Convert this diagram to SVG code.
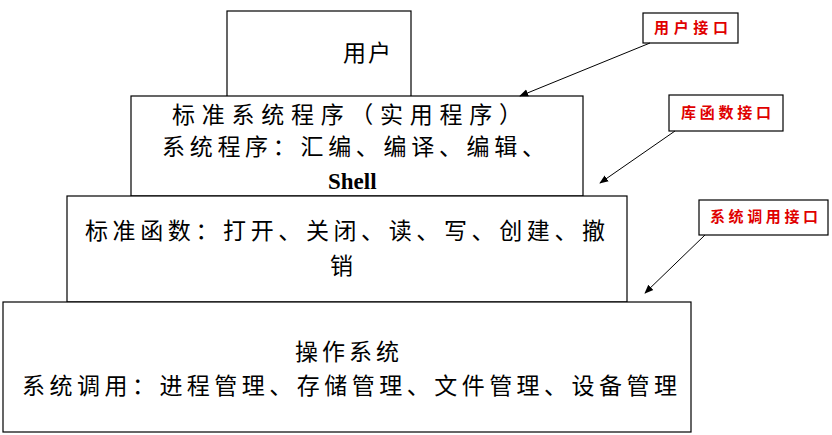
<svg xmlns="http://www.w3.org/2000/svg" width="832" height="435" viewBox="0 0 832 435">
<defs>
<style>
.b{fill:#fff;stroke:#000;stroke-width:1.2}
.t{font-family:"Liberation Serif","Noto Sans CJK SC",serif;font-size:23px;fill:#000}
.r{font-family:"Liberation Serif","Noto Sans CJK SC",serif;font-size:15px;font-weight:bold;fill:#e00000}
.c{stroke:#000;stroke-width:1;fill:none;marker-end:url(#a)}
</style>
<marker id="a" viewBox="0 0 10 10" refX="9" refY="5" markerWidth="9" markerHeight="9" orient="auto"><path d="M0,1 L10,5 L0,9 Z" fill="#000"/></marker>
</defs>
<rect width="832" height="435" fill="#fff"/>
<g id="user"><rect class="b" x="227" y="11" width="184" height="86"/><text class="t" x="343" y="61" textLength="48" lengthAdjust="spacing">用户</text></g>
<g id="stdsys"><rect class="b" x="131" y="96" width="452" height="100"/>
<text class="t" x="172" y="123" textLength="350" lengthAdjust="spacing">标准系统程序（实用程序）</text>
<text class="t" x="162" y="155" textLength="383" lengthAdjust="spacing">系统程序：汇编、编译、编辑、</text>
<text class="t" x="328" y="189" font-weight="bold" font-size="22">Shell</text></g>
<g id="stdfunc"><rect class="b" x="67" y="196" width="560" height="106"/>
<text class="t" x="85" y="239" textLength="520" lengthAdjust="spacing">标准函数：打开、关闭、读、写、创建、撤</text>
<text class="t" x="330" y="274">销</text></g>
<g id="os"><rect class="b" x="3" y="302" width="688" height="130"/>
<text class="t" x="295" y="360" textLength="104" lengthAdjust="spacing">操作系统</text>
<text class="t" x="22" y="394" textLength="655" lengthAdjust="spacing">系统调用：进程管理、存储管理、文件管理、设备管理</text></g>
<g id="l1"><rect class="b" x="643" y="13" width="95" height="30"/><text class="r" x="654" y="33" textLength="74" lengthAdjust="spacing">用户接口</text></g>
<g id="l2"><rect class="b" x="669" y="95" width="114" height="36"/><text class="r" x="681" y="118" textLength="90" lengthAdjust="spacing">库函数接口</text></g>
<g id="l3"><rect class="b" x="699" y="200" width="129" height="35"/><text class="r" x="710" y="222" textLength="108" lengthAdjust="spacing">系统调用接口</text></g>
<g id="connectors">
<path class="c" d="M650,43 L520,96"/>
<path class="c" d="M675,131 L600,183"/>
<path class="c" d="M705,235 L645,293"/>
</g>
</svg>
